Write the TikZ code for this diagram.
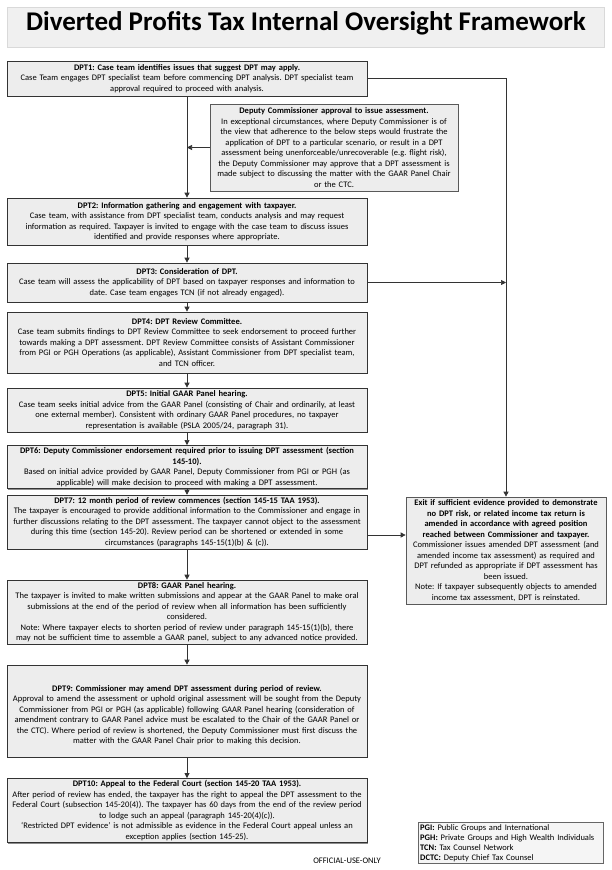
\documentclass[tikz,border=0pt]{standalone}
\usepackage{fontspec}
\setmainfont{Carlito}
\frenchspacing
\usetikzlibrary{arrows.meta,shadows}
\tikzset{
  box/.style={draw=black!80, fill=black!7, line width=0.7pt, align=center,
    text width=#1, inner xsep=2pt, inner ysep=2pt,
    font=\fontsize{8.5}{10.5}\selectfont,
    drop shadow={shadow xshift=1pt, shadow yshift=-1pt, fill=black!45, opacity=1}},
  sidebox/.style={box=#1, draw=black!65},
  arr/.style={-{Triangle[length=5pt,width=5pt]}, draw=black!80, line width=0.7pt},
}
\begin{document}
\begin{tikzpicture}[x=1pt,y=-1pt]
\fill[white] (0,0) rectangle (612,870);
\useasboundingbox (0,0) rectangle (612,870);

% title
\node[fill=black!6, draw=black!15, minimum width=597pt, minimum height=40pt, inner sep=0pt] (titlebg) at (306,27) {};
\node[font=\fontsize{27}{30}\selectfont\bfseries] (title) at (306,23) {Diverted Profits Tax Internal Oversight Framework};

% main column
\node[box=356pt, minimum height=35pt] (dpt1) at (187,78.5) {\textbf{DPT1: Case team identifies issues that suggest DPT may apply.}\\
Case Team engages DPT specialist team before commencing DPT analysis. DPT specialist team\\
approval required to proceed with analysis.};

\node[sidebox=244pt, minimum height=87pt] (deputy) at (334,147.5) {\textbf{Deputy Commissioner approval to issue assessment.}\\
In exceptional circumstances, where Deputy Commissioner is of\\
the view that adherence to the below steps would frustrate the\\
application of DPT to a particular scenario, or result in a DPT\\
assessment being unenforceable/unrecoverable (e.g. flight risk),\\
the Deputy Commissioner may approve that a DPT assessment is\\
made subject to discussing the matter with the GAAR Panel Chair\\
or the CTC.};

\node[box=356pt, minimum height=47pt] (dpt2) at (187,221.5) {\textbf{DPT2: Information gathering and engagement with taxpayer.}\\
Case team, with assistance from DPT specialist team, conducts analysis and may request\\
information as required. Taxpayer is invited to engage with the case team to discuss issues\\
identified and provide responses where appropriate.};

\node[box=356pt, minimum height=39pt] (dpt3) at (187,282.5) {\textbf{DPT3: Consideration of DPT.}\\
Case team will assess the applicability of DPT based on taxpayer responses and information to\\
date. Case team engages TCN (if not already engaged).};

\node[box=356pt, minimum height=61pt] (dpt4) at (187,342.5) {\textbf{DPT4: DPT Review Committee.}\\
Case team submits findings to DPT Review Committee to seek endorsement to proceed further\\
towards making a DPT assessment. DPT Review Committee consists of Assistant Commissioner\\
from PGI or PGH Operations (as applicable), Assistant Commissioner from DPT specialist team,\\
and TCN officer.};

\node[box=356pt, minimum height=44pt] (dpt5) at (187,410) {\textbf{DPT5: Initial GAAR Panel hearing.}\\
Case team seeks initial advice from the GAAR Panel (consisting of Chair and ordinarily, at least\\
one external member). Consistent with ordinary GAAR Panel procedures, no taxpayer\\
representation is available (PSLA 2005/24, paragraph 31).};

\node[box=356pt, minimum height=40pt] (dpt6) at (187,467) {\textbf{DPT6: Deputy Commissioner endorsement required prior to issuing DPT assessment (section}\\
\textbf{145-10).}\\
Based on initial advice provided by GAAR Panel, Deputy Commissioner from PGI or PGH (as\\
applicable) will make decision to proceed with making a DPT assessment.};

\node[box=356pt, minimum height=44pt] (dpt7) at (187,522) {\textbf{DPT7: 12 month period of review commences (section 145-15 TAA 1953).}\\
The taxpayer is encouraged to provide additional information to the Commissioner and engage in\\
further discussions relating to the DPT assessment. The taxpayer cannot object to the assessment\\
during this time (section 145-20). Review period can be shortened or extended in some\\
circumstances (paragraphs 145-15(1)(b) \& (c)).};

\node[box=356pt, minimum height=48pt] (dpt8) at (187,612) {\textbf{DPT8: GAAR Panel hearing.}\\
The taxpayer is invited to make written submissions and appear at the GAAR Panel to make oral\\
submissions at the end of the period of review when all information has been sufficiently\\
considered.\\
Note: Where taxpayer elects to shorten period of review under paragraph 145-15(1)(b), there\\
may not be sufficient time to assemble a GAAR panel, subject to any advanced notice provided.};

\node[box=356pt, minimum height=92pt] (dpt9) at (187,711) {\rule{0pt}{14pt}\textbf{DPT9: Commissioner may amend DPT assessment during period of review.}\\
Approval to amend the assessment or uphold original assessment will be sought from the Deputy\\
Commissioner from PGI or PGH (as applicable) following GAAR Panel hearing (consideration of\\
amendment contrary to GAAR Panel advice must be escalated to the Chair of the GAAR Panel or\\
the CTC). Where period of review is shortened, the Deputy Commissioner must first discuss the\\
matter with the GAAR Panel Chair prior to making this decision.};

\node[box=356pt, minimum height=55pt] (dpt10) at (187,810.5) {\textbf{DPT10: Appeal to the Federal Court (section 145-20 TAA 1953).}\\
After period of review has ended, the taxpayer has the right to appeal the DPT assessment to the\\
Federal Court (subsection 145-20(4)). The taxpayer has 60 days from the end of the review period\\
to lodge such an appeal (paragraph 145-20(4)(c)).\\
‘Restricted DPT evidence’ is not admissible as evidence in the Federal Court appeal unless an\\
exception applies (section 145-25).};

% exit box
\node[sidebox=196pt, minimum height=107pt] (exit) at (506,550.5) {\textbf{Exit if sufficient evidence provided to demonstrate}\\
\textbf{no DPT risk, or related income tax return is}\\
\textbf{amended in accordance with agreed position}\\
\textbf{reached between Commissioner and taxpayer.}\\
Commissioner issues amended DPT assessment (and\\
amended income tax assessment) as required and\\
DPT refunded as appropriate if DPT assessment has\\
been issued.\\
Note: If taxpayer subsequently objects to amended\\
income tax assessment, DPT is reinstated.};

% legend
\node[draw=black!60, fill=black!4, align=left, anchor=north west, inner xsep=2pt, inner ysep=2pt,
  text width=181pt, font=\fontsize{8.5}{10}\selectfont] (legend) at (418,822) {\textbf{PGI:} Public Groups and International\\
\textbf{PGH:} Private Groups and High Wealth Individuals\\
\textbf{TCN:} Tax Counsel Network\\
\textbf{DCTC:} Deputy Chief Tax Counsel};

\node[font=\fontsize{8.5}{10}\selectfont] (footer) at (347,861) {OFFICIAL-USE-ONLY};

% connectors
\draw[arr] (dpt1.south) -- (dpt2.north);
\coordinate (dj) at (dpt1.south |- deputy.west);
\draw[arr] (deputy.west) -- (dj);
\draw[arr] (dpt2) -- (dpt3);
\draw[arr] (dpt3) -- (dpt4);
\draw[arr] (dpt4) -- (dpt5);
\draw[arr] (dpt5) -- (dpt6);
\draw[arr] (dpt6) -- (dpt7);
\draw[arr] (dpt7) -- (dpt8);
\draw[arr] (dpt8) -- (dpt9);
\draw[arr] (dpt9) -- (dpt10);
\draw[arr] (dpt1.east) -- (exit.north |- dpt1.east) -- (exit.north);
\coordinate (r3) at (exit.north |- dpt3.east);
\draw[arr] (dpt3.east) -- (r3);
\coordinate (y7) at (0,535);
\draw[arr] (dpt7.east |- y7) -- (exit.west |- y7);
\end{tikzpicture}
\end{document}
